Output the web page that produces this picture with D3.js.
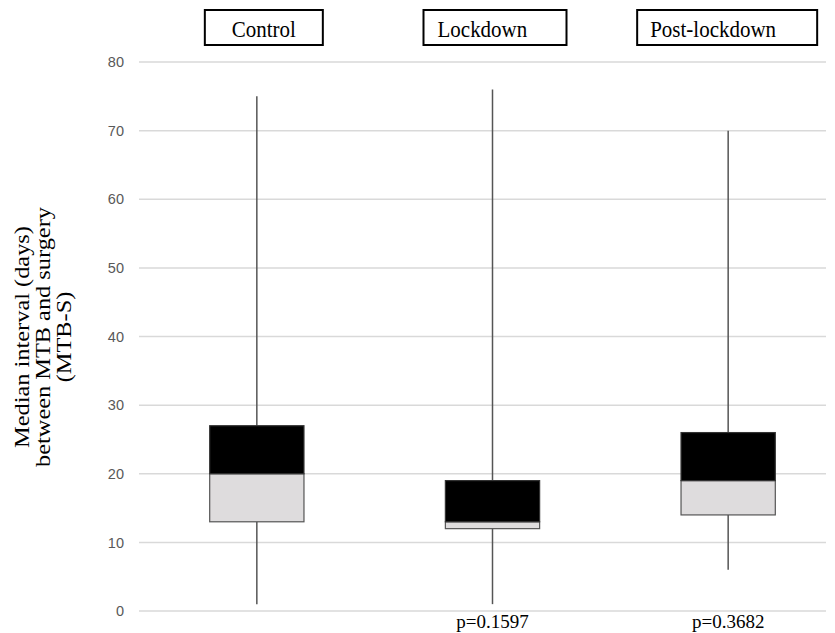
<!DOCTYPE html>
<html>
<head>
<meta charset="utf-8">
<script src="https://cdn.jsdelivr.net/npm/d3@7"></script>
<style>
  html, body { margin: 0; padding: 0; background: #fff; }
  svg { display: block; }
</style>
</head>
<body>
<svg id="chart" width="835" height="633"></svg>
<script>
// Interval (days) between MTB and surgery, per period
const categories = ["Control", "Lockdown", "Post-lockdown"];
const whiskerLow  = [1, 1, 6];
const quartile1   = [13, 12, 14];
const medians     = [20, 13, 19];
const quartile3   = [27, 19, 26];
const whiskerHigh = [75, 76, 70];
const pValues     = [null, "p=0.1597", "p=0.3682"];
const yTicks      = [0, 10, 20, 30, 40, 50, 60, 70, 80];

const svg = d3.select("#chart");

const y = d3.scaleLinear().domain([0, 80]).range([611, 62]);
const x = d3.scaleBand().domain(categories).range([139, 846]);
const boxW = x.bandwidth() * 0.4;
const cx = c => x(c) + x.bandwidth() / 2;

const serif = "'Liberation Serif', 'Times New Roman', serif";

// Horizontal gridlines
svg.append("g")
  .selectAll("line")
  .data(yTicks)
  .join("line")
  .attr("x1", 139).attr("x2", 826)
  .attr("y1", d => y(d)).attr("y2", d => y(d))
  .attr("stroke", "#d9d9d9")
  .attr("stroke-width", 1.5);

// Y axis tick labels
const yAxis = d3.axisLeft(y).tickValues(yTicks).tickSize(0).tickPadding(0);
const yg = svg.append("g").attr("transform", "translate(124,0)").call(yAxis);
yg.select(".domain").remove();
yg.selectAll("text")
  .attr("font-family", "'Liberation Sans', Arial, sans-serif")
  .attr("font-size", 14.5)
  .attr("fill", "#595959");

// Y axis title (three lines), slightly stretched along the reading direction
const titleLines = ["Median interval (days)", "between MTB and surgery", "(MTB-S)"];
svg.append("g")
  .attr("transform", "translate(0,337) rotate(-90) scale(1.16,1)")
  .selectAll("text")
  .data(titleLines)
  .join("text")
  .attr("x", 0)
  .attr("y", (d, i) => 29 + i * 21)
  .attr("text-anchor", "middle")
  .attr("font-family", serif)
  .attr("font-size", 21)
  .attr("fill", "#000")
  .text(d => d);

// Box plots
const rows = categories.map((c, i) => ({
  c, lo: whiskerLow[i], q1: quartile1[i], med: medians[i], q3: quartile3[i], hi: whiskerHigh[i]
}));
const boxes = svg.append("g").selectAll("g").data(rows).join("g");

boxes.append("line")
  .attr("x1", d => cx(d.c)).attr("x2", d => cx(d.c))
  .attr("y1", d => y(d.lo)).attr("y2", d => y(d.q1))
  .attr("stroke", "#555").attr("stroke-width", 1.5);
boxes.append("line")
  .attr("x1", d => cx(d.c)).attr("x2", d => cx(d.c))
  .attr("y1", d => y(d.q3)).attr("y2", d => y(d.hi))
  .attr("stroke", "#555").attr("stroke-width", 1.5);

boxes.append("rect")
  .attr("x", d => cx(d.c) - boxW / 2)
  .attr("width", boxW)
  .attr("y", d => y(d.med))
  .attr("height", d => y(d.q1) - y(d.med))
  .attr("fill", "#dedcdd")
  .attr("stroke", "#555").attr("stroke-width", 1.2);
boxes.append("rect")
  .attr("x", d => cx(d.c) - boxW / 2)
  .attr("width", boxW)
  .attr("y", d => y(d.q3))
  .attr("height", d => y(d.med) - y(d.q3))
  .attr("fill", "#000")
  .attr("stroke", "#333").attr("stroke-width", 1.2);

// Group headers in framed boxes
const headers = [
  { c: "Control",       dx0: -52, dx1: 66, anchor: "middle", tx: 7 },
  { c: "Lockdown",      dx0: -69, dx1: 74, anchor: "start",  tx: -55 },
  { c: "Post-lockdown", dx0: -91, dx1: 89, anchor: "start",  tx: -78 }
];
const hg = svg.append("g").selectAll("g").data(headers).join("g");
hg.append("rect")
  .attr("x", d => cx(d.c) + d.dx0)
  .attr("width", d => d.dx1 - d.dx0)
  .attr("y", 10).attr("height", 35)
  .attr("fill", "#fff")
  .attr("stroke", "#000").attr("stroke-width", 2);
hg.append("text")
  .attr("transform", d => `translate(${cx(d.c) + d.tx},37) scale(1,1.1)`)
  .attr("text-anchor", d => d.anchor)
  .attr("font-family", serif)
  .attr("font-size", 21)
  .attr("fill", "#000")
  .text(d => d.c);

// p-values under the groups
svg.append("g").selectAll("text")
  .data(categories.map((c, i) => ({ c, p: pValues[i] })).filter(d => d.p))
  .join("text")
  .attr("x", d => cx(d.c))
  .attr("y", 628)
  .attr("text-anchor", "middle")
  .attr("font-family", serif)
  .attr("font-size", 19)
  .attr("fill", "#000")
  .text(d => d.p);
</script>
</body>
</html>
